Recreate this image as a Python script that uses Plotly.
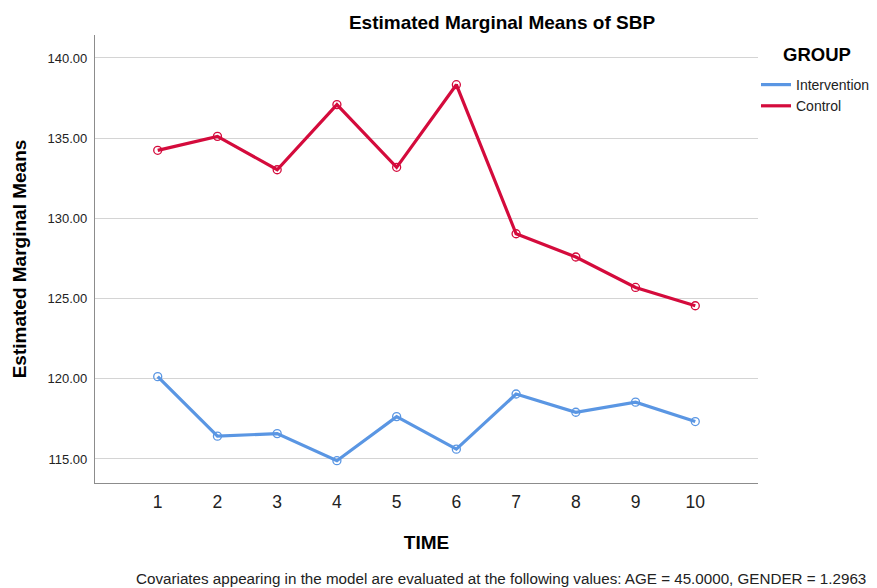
import plotly.graph_objects as go

time_points = [1, 2, 3, 4, 5, 6, 7, 8, 9, 10]
intervention = [120.13, 116.42, 116.58, 114.89, 117.64, 115.61, 119.05, 117.91, 118.54, 117.33]
control = [134.24, 135.11, 133.03, 137.09, 133.18, 138.33, 129.04, 127.59, 125.69, 124.55]
y_ticks = [115, 120, 125, 130, 135, 140]

series = [("Intervention", intervention, "#5A96E3"), ("Control", control, "#D40B3C")]

FONT = "Liberation Sans, Arial, sans-serif"
# the page body adds an 8px offset; figure is sized so the plot lands where the reference has it
OFF = 8
W, H = 877 - OFF, 588 - OFF
L, T, R, B = 95 - OFF, 35 - OFF, 877 - 758, 588 - 483
PW, PH = W - L - R, H - T - B

fig = go.Figure()
for name, vals, col in series:
    fig.add_trace(go.Scatter(x=time_points, y=vals, mode="lines", name=name,
                             legendgroup=name, line=dict(color=col, width=3.2)))
for name, vals, col in series:
    fig.add_trace(go.Scatter(x=time_points, y=vals, mode="markers", name=name,
                             legendgroup=name, showlegend=False,
                             marker=dict(symbol="circle-open", size=8, color=col,
                                         line=dict(width=1.3, color=col))))

fig.update_layout(
    width=W, height=H,
    margin=dict(l=L, r=R, t=T, b=B, autoexpand=False),
    paper_bgcolor="white", plot_bgcolor="white",
    font=dict(family=FONT, color="#222222"),
    title=dict(text="<b>Estimated Marginal Means of SBP</b>", x=(502 - OFF) / W, xanchor="center",
               xref="container", y=1 - (22 - OFF) / H, yanchor="middle", yref="container",
               pad=dict(t=0, b=0, l=0, r=0),
               font=dict(size=19, color="#000000", family=FONT)),
    xaxis=dict(range=[-0.05, 11.05], tickvals=time_points, ticktext=[str(t) for t in time_points],
               showgrid=False, zeroline=False, showline=True, linecolor="#8c8c8c", linewidth=1.2,
               ticks="", ticklabelstandoff=3, automargin=False,
               tickfont=dict(size=17.5, color="#222222"),
               title=dict(text="<b>TIME</b>", font=dict(size=19, color="#000000"), standoff=24)),
    yaxis=dict(range=[113.5, 141.43], tickvals=y_ticks, ticktext=[f"{v:.2f}" for v in y_ticks],
               showgrid=True, gridcolor="#d4d4d4", gridwidth=1, zeroline=False,
               showline=True, linecolor="#8c8c8c", linewidth=1.2,
               ticks="", ticklabelstandoff=4, automargin=False,
               tickfont=dict(size=13, color="#222222"),
               title=dict(text="<b>Estimated Marginal Means</b>", font=dict(size=19, color="#000000"),
                          standoff=15)),
    legend=dict(x=1.0 - 2 / PW, xanchor="left", y=1 - (69 - 35) / PH, yanchor="top",
                bgcolor="rgba(0,0,0,0)", font=dict(size=14, color="#222222"),
                tracegroupgap=0, itemwidth=30),
    showlegend=True,
)

fig.add_annotation(text="<b>GROUP</b>", xref="paper", yref="paper",
                   x=(817 - 95) / PW, y=1 - (54 - 35) / PH, xanchor="center", yanchor="middle",
                   showarrow=False, font=dict(size=18.5, color="#000000", family=FONT))

fig.add_annotation(text="Covariates appearing in the model are evaluated at the following values: AGE = 45.0000, GENDER = 1.2963",
                   xref="paper", yref="paper", x=(500.5 - 95) / PW, y=-(578 - 483) / PH,
                   xanchor="center", yanchor="middle", showarrow=False,
                   font=dict(size=15.2, color="#222222", family=FONT))

fig.write_html("out.html")
